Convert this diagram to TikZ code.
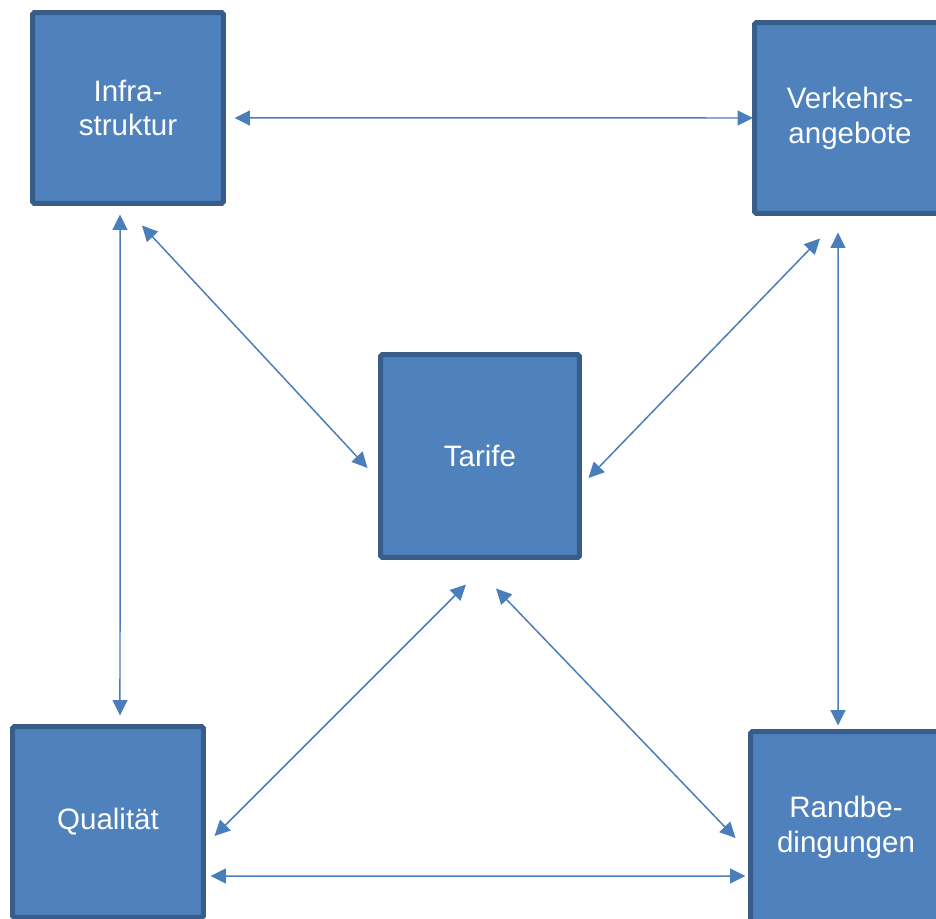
\documentclass[tikz,border=0pt]{standalone}
\usepackage{fontspec}
\setmainfont{Liberation Sans}
\usetikzlibrary{arrows.meta}
\definecolor{boxfill}{HTML}{4F81BD}
\definecolor{boxline}{HTML}{385D8A}
\definecolor{arrowblue}{HTML}{4A7EBB}

\begin{document}
\begin{tikzpicture}[
            x=0.02cm, y=-0.02cm,
            boxnode/.style={draw=boxline, fill=boxfill, line width=0.1cm, rounded corners=1pt,
                minimum width=3.82cm, minimum height=3.82cm, align=center, text=white,
                font=\fontsize{16.8}{19.8}\selectfont},
            centernode/.style={boxnode, minimum width=3.98cm, minimum height=4.06cm},
            link/.style={draw=arrowblue, line width=0.03cm,
                {Triangle[length=0.31cm, width=0.3cm]}-{Triangle[length=0.31cm, width=0.3cm]}}
        ]
            \clip (0, 0) rectangle (936, 919);

            % boxes
            \node[boxnode] (infra) at (128, 108) {Infra-\\struktur};
            \node[boxnode] (verk) at (850, 118) {Verkehrs-\\angebote};
            \node[centernode] (tarife) at (480, 456) {Tarife};
            \node[boxnode] (qual) at (108, 822) {Qualität};
            \node[boxnode] (rand) at (846, 827) {Randbe-\\dingungen};

            % outer links
            \draw[link] ([xshift=0.17cm, yshift=-0.2cm]infra.east) -- ([xshift=0.02cm]verk.west);
            \draw[link] ([xshift=-0.16cm, yshift=-0.17cm]infra.south) -- ([xshift=0.24cm, yshift=0.17cm]qual.north);
            \draw[link] ([xshift=-0.24cm, yshift=-0.33cm]verk.south) -- ([xshift=-0.16cm, yshift=0.07cm]rand.north);
            \draw[link] ([xshift=0.09cm, yshift=-1.08cm]qual.east) -- ([xshift=-0.05cm, yshift=-0.98cm]rand.west);

            % links to the centre
            \draw[link] ([xshift=0.28cm, yshift=-0.39cm]infra.south) -- ([xshift=-0.21cm, yshift=-0.24cm]tarife.west);
            \draw[link] ([xshift=-0.6cm, yshift=-0.45cm]verk.south) -- ([xshift=0.13cm, yshift=-0.44cm]tarife.east);
            \draw[link] ([xshift=-0.28cm, yshift=-0.49cm]tarife.south) -- ([xshift=0.17cm, yshift=-0.28cm]qual.east);
            \draw[link] ([xshift=0.32cm, yshift=-0.57cm]tarife.south) -- ([xshift=-0.25cm, yshift=-0.22cm]rand.west);

        \end{tikzpicture}
\end{document}
